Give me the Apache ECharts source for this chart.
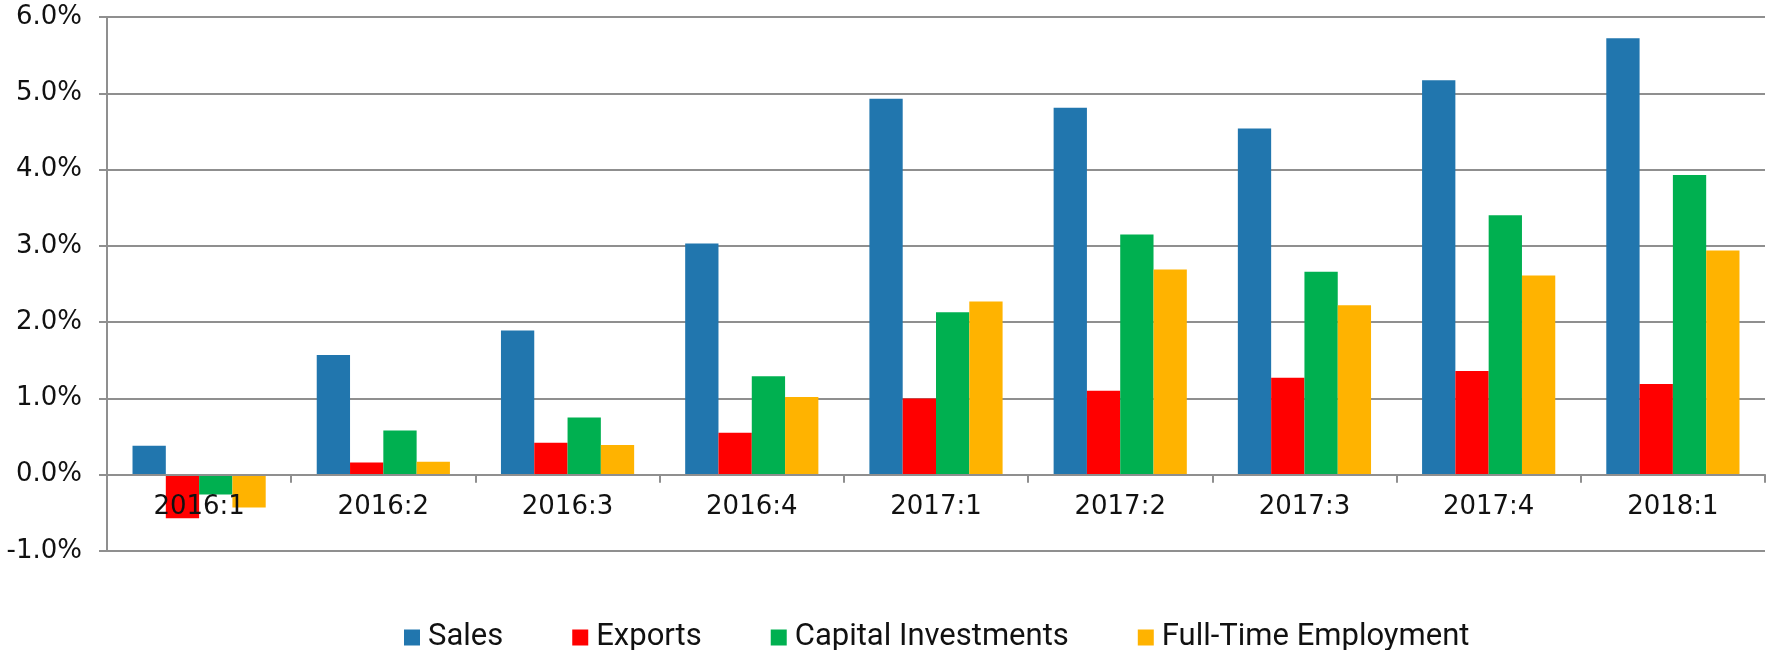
<!DOCTYPE html>
<html>
<head>
<meta charset="utf-8">
<title>Sales, Exports, Investment, Employment</title>
<script src="https://cdn.jsdelivr.net/npm/echarts@6/dist/echarts.min.js"></script>
<style>
  html, body { margin: 0; padding: 0; background: #fff; }
  #chart { width: 1769px; height: 650px; }
</style>
</head>
<body>
<div id="chart"></div>
<script>
// 数据（百分比）
var quarters = ['2016:1', '2016:2', '2016:3', '2016:4', '2017:1', '2017:2', '2017:3', '2017:4', '2018:1'];
var sales = [0.38, 1.57, 1.89, 3.03, 4.93, 4.81, 4.54, 5.17, 5.72];
var exports_ = [-0.57, 0.16, 0.42, 0.55, 1.00, 1.10, 1.27, 1.36, 1.19];
var capital = [-0.26, 0.58, 0.75, 1.29, 2.13, 3.15, 2.66, 3.40, 3.93];
var employment = [-0.43, 0.17, 0.39, 1.02, 2.27, 2.69, 2.22, 2.61, 2.94];
var yTicks = { min: -1, max: 6, step: 1 };

var gray = '#8f8f8f';
var chart = echarts.init(document.getElementById('chart'));

function bar(name, data, color) {
  return {
    name: name,
    type: 'bar',
    data: data,
    barGap: '0%',
    barCategoryGap: '27.7%',
    itemStyle: { color: color },
    emphasis: { disabled: true }
  };
}

chart.setOption({
  animation: false,
  grid: { left: 107, right: 4, top: 17, bottom: 99, containLabel: false },
  legend: {
    left: 399,
    top: 617,
    icon: 'rect',
    itemWidth: 16,
    itemHeight: 16,
    itemGap: 69,
    textStyle: { fontFamily: 'Roboto', fontSize: 31, color: '#111', padding: [0, 0, 0, 3] },
    data: ['Sales', 'Exports', 'Capital Investments', 'Full-Time Employment']
  },
  xAxis: {
    type: 'category',
    data: quarters,
    z: 10,
    axisLine: { onZero: true, lineStyle: { color: gray, width: 2 } },
    axisTick: { show: true, length: 8, interval: 0, lineStyle: { color: gray, width: 2 } },
    // v6 把标签放在网格底部，这里用负的 margin 拉回到 0 线下方
    axisLabel: { fontFamily: 'DejaVu Sans', fontSize: 26, color: '#111', margin: -57, interval: 0 },
    splitLine: { show: false }
  },
  yAxis: {
    type: 'value',
    min: yTicks.min,
    max: yTicks.max,
    interval: yTicks.step,
    axisLine: { show: true, lineStyle: { color: gray, width: 2 } },
    axisTick: { show: true, length: 8, lineStyle: { color: gray, width: 2 } },
    axisLabel: {
      fontFamily: 'DejaVu Sans', fontSize: 26, color: '#111', margin: 25,
      formatter: function (v) { return v.toFixed(1) + '%'; }
    },
    splitLine: { show: true, lineStyle: { color: gray, width: 2 } }
  },
  series: [
    bar('Sales', sales, '#2176ae'),
    bar('Exports', exports_, '#ff0000'),
    bar('Capital Investments', capital, '#00b050'),
    bar('Full-Time Employment', employment, '#ffb300')
  ]
});
</script>
</body>
</html>
